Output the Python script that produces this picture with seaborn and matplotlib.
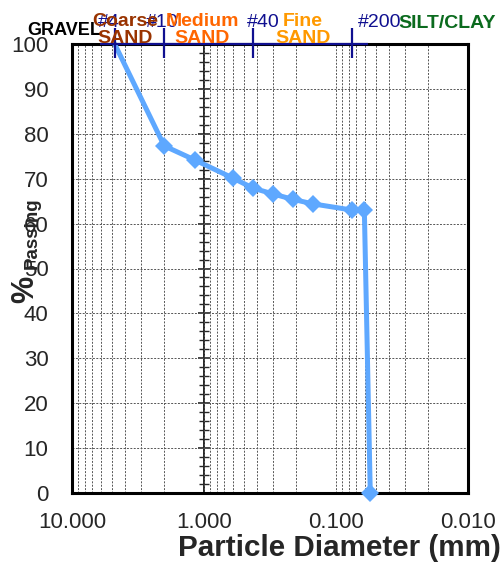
import matplotlib
matplotlib.use("Agg")
import matplotlib.pyplot as plt
import numpy as np
import pandas as pd
import seaborn as sns
from matplotlib.ticker import FixedLocator, LogLocator, MultipleLocator, NullFormatter

# Grain size data
diameter_mm = [4.75, 2.0, 1.18, 0.6, 0.425, 0.3, 0.212, 0.15, 0.075, 0.061, 0.055]
pct_passing = [100.0, 77.3, 74.2, 70.1, 67.9, 66.6, 65.4, 64.4, 63.0, 63.0, 0.0]

# Sieve marks along the top
sieve_names = ["#4", "#10", "#40", "#200"]
sieve_mm = [4.75, 2.0, 0.425, 0.075]
sieve_label_x = [5.3, 2.08, 0.357, 0.0465]

# Soil class labels
class_names = ["GRAVEL", "Coarse\nSAND", "Medium\nSAND", "Fine\nSAND", "SILT/CLAY"]
class_x = [11.5, 3.97, 1.035, 0.178, 0.0145]
class_y = [102.9, 103.1, 103.1, 103.1, 104.5]
class_colors = ["black", "#993300", "#FF6600", "#FF9900", "#0B6B1E"]
class_sizes = [13, 14, 14, 14, 14]

x_ticks = [10.0, 1.0, 0.1, 0.01]
x_tick_labels = ["10.000", "1.000", "0.100", "0.010"]
y_ticks = list(range(0, 101, 10))

sns.set_style("white")
plt.rcParams["font.family"] = ["Liberation Sans", "DejaVu Sans"]

df = pd.DataFrame({"Diameter": diameter_mm, "Passing": pct_passing})

fig = plt.figure(figsize=(5.02, 5.64), dpi=100)
ax = fig.add_axes([72 / 502, 1 - 493 / 564, (468 - 72) / 502, (493 - 44) / 564])

ax.set_xscale("log")
ax.set_xlim(10, 0.01)
ax.set_ylim(0, 100)

# grid first so the curve sits on top
ax.xaxis.set_minor_locator(LogLocator(base=10, subs=np.arange(2, 10)))
ax.xaxis.set_minor_formatter(NullFormatter())
ax.grid(which="major", axis="both", color="#555555", linestyle=(0, (2, 1.5)), linewidth=0.7)
ax.grid(which="minor", axis="x", color="#555555", linestyle=(0, (2, 1.5)), linewidth=0.7)
ax.set_axisbelow(True)

sns.lineplot(data=df, x="Diameter", y="Passing", ax=ax, sort=False, color="#5EA8FF",
             linewidth=3.6, marker="D", markersize=9, markeredgewidth=0,
             markevery=list(range(1, len(diameter_mm))), zorder=5, clip_on=False)

ax.xaxis.set_major_locator(FixedLocator(x_ticks))
ax.set_xticklabels(x_tick_labels)
ax.set_yticks(y_ticks)
ax.tick_params(axis="x", which="major", direction="out", length=6, width=1, pad=8, labelsize=16)
ax.tick_params(axis="x", which="minor", direction="out", length=4, width=0.8)
ax.tick_params(axis="y", which="both", length=0, pad=17, labelsize=16)
ax.set_xlabel("")
ax.set_ylabel("")
for sp in ax.spines.values():
    sp.set_linewidth(2.2)
    sp.set_color("black")

# vertical axis crossing at 1.0 mm
lo, hi = ax.get_xlim()
frac = np.log10(lo / 1.0) / np.log10(lo / hi)
sec = ax.secondary_yaxis(frac)
sec.yaxis.set_major_locator(MultipleLocator(10))
sec.yaxis.set_minor_locator(MultipleLocator(2))
sec.tick_params(which="major", direction="inout", length=9, width=1.2, labelleft=False, labelright=False)
sec.tick_params(which="minor", direction="inout", length=7, width=1.0)
for sp in sec.spines.values():
    sp.set_linewidth(1.4)

# sieve bar along the top
navy = "#101090"
ax.hlines(100, sieve_mm[0] * 1.3, sieve_mm[-1] * 0.76, colors=navy, linewidth=1.6,
          clip_on=False, zorder=6)
ax.vlines(sieve_mm, 96.8, 103.5, colors=navy, linewidth=1.6, clip_on=False, zorder=6)
for name, xl in zip(sieve_names, sieve_label_x):
    ax.text(xl, 104.7, name, color=navy, fontsize=14, ha="center", va="center",
            clip_on=False, zorder=7)

for name, xc, yc, col, fs in zip(class_names, class_x, class_y, class_colors, class_sizes):
    ax.text(xc, yc, name, color=col, fontsize=fs, fontweight="bold", ha="center",
            va="center", linespacing=1.05, clip_on=False, zorder=8)

# axis titles
fig.text(501 / 502, 1 - 556 / 564, "Particle Diameter (mm)", fontsize=21.3,
         fontweight="bold", ha="right", va="baseline")
fig.text(32 / 502, 1 - 233 / 564, "Passing", fontsize=13.5, fontweight="bold",
         rotation=90, ha="center", va="center")
fig.text(25 / 502, 1 - 289 / 564, "%", fontsize=22, fontweight="bold",
         rotation=90, ha="center", va="center")

fig.savefig("out.png", dpi=100)
